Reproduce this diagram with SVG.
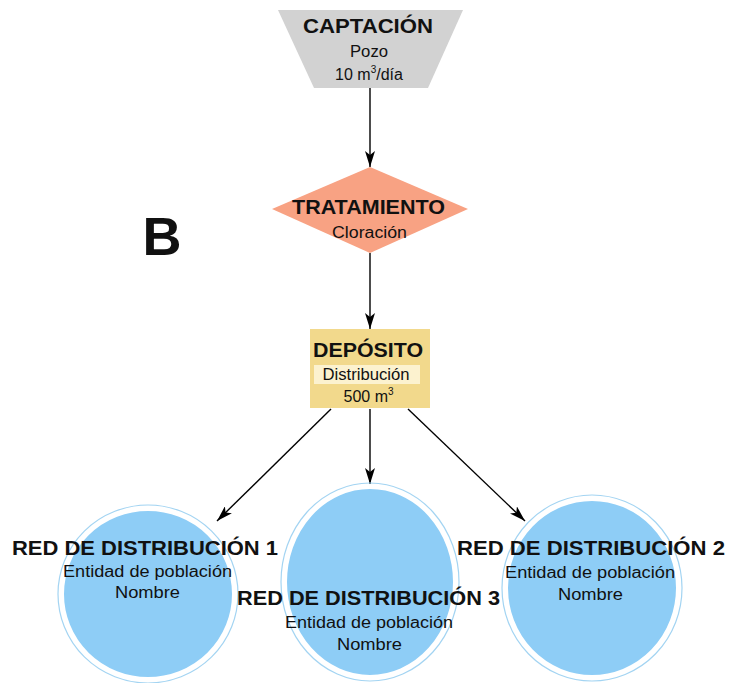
<svg xmlns="http://www.w3.org/2000/svg" width="746" height="683" viewBox="0 0 746 683">
<defs>
<marker id="ah" viewBox="0 0 16 10" refX="16" refY="5" markerWidth="16" markerHeight="10" markerUnits="userSpaceOnUse" orient="auto">
<path d="M0,0 L16,5 L0,10 L4,5 Z" fill="#000"/>
</marker>
</defs>
<style>
text{font-family:"Liberation Sans",Arial,sans-serif;text-anchor:middle;fill:#111}
.h{font-weight:bold;font-size:21px}
.s{font-size:16px}
.c{font-size:16px}
.conn line{stroke:#000;stroke-width:1.4;marker-end:url(#ah)}
.circ{fill:#8ecdf6;stroke:#fff;stroke-width:4}
.ring{fill:none;stroke:#a3d4f2;stroke-width:1.2}
</style>
<rect width="746" height="683" fill="#fff"/>
<g class="conn">
<line x1="370" y1="88" x2="370" y2="167"/>
<line x1="370" y1="253" x2="370" y2="329"/>
<line x1="331" y1="409" x2="217" y2="521"/>
<line x1="370" y1="409" x2="370" y2="484"/>
<line x1="408" y1="409" x2="525" y2="521"/>
</g>
<g id="captacion">
<polygon points="278,10 463,10 428,88 314,88" fill="#d2d2d2"/>
<text class="h" x="368" y="33" textLength="130" lengthAdjust="spacingAndGlyphs">CAPTACIÓN</text>
<text class="s" x="369" y="57" textLength="38" lengthAdjust="spacingAndGlyphs">Pozo</text>
<text class="s" x="369" y="80">10 m<tspan font-size="10" dy="-7">3</tspan><tspan dy="7">/día</tspan></text>
</g>
<g id="tratamiento">
<polygon points="370,167 468,209 370,253 272,209" fill="#f8a283"/>
<text class="h" x="368.5" y="214" textLength="153" lengthAdjust="spacingAndGlyphs">TRATAMIENTO</text>
<text class="s" x="369.5" y="238" textLength="75" lengthAdjust="spacingAndGlyphs">Cloración</text>
</g>
<g id="deposito">
<rect x="310" y="329" width="120" height="79" fill="#f2d98c"/>
<rect x="314" y="365" width="106" height="19" fill="#fcf2cf"/>
<text class="h" x="368" y="357" textLength="110" lengthAdjust="spacingAndGlyphs">DEPÓSITO</text>
<text class="s" x="366" y="380" textLength="87" lengthAdjust="spacingAndGlyphs">Distribución</text>
<text class="s" x="368.5" y="402">500 m<tspan font-size="10" dy="-7">3</tspan></text>
</g>
<g id="label-b">
<text x="162" y="255" font-weight="bold" font-size="54">B</text>
</g>
<g id="red1">
<ellipse class="ring" cx="148" cy="594" rx="90" ry="89"/>
<ellipse class="circ" cx="148" cy="594" rx="86" ry="85"/>
<text class="h" x="145" y="555" textLength="266" lengthAdjust="spacingAndGlyphs">RED DE DISTRIBUCIÓN 1</text>
<text class="c" x="147.5" y="577" textLength="169" lengthAdjust="spacingAndGlyphs">Entidad de población</text>
<text class="c" x="147.5" y="598" textLength="65" lengthAdjust="spacingAndGlyphs">Nombre</text>
</g>
<g id="red3">
<ellipse class="ring" cx="370" cy="582" rx="89" ry="99"/>
<ellipse class="circ" cx="370" cy="582" rx="85" ry="95"/>
<text class="h" x="368.5" y="605" textLength="263" lengthAdjust="spacingAndGlyphs">RED DE DISTRIBUCIÓN 3</text>
<text class="c" x="369" y="628" textLength="168" lengthAdjust="spacingAndGlyphs">Entidad de población</text>
<text class="c" x="369.5" y="650" textLength="65" lengthAdjust="spacingAndGlyphs">Nombre</text>
</g>
<g id="red2">
<ellipse class="ring" cx="592" cy="588" rx="90" ry="93"/>
<ellipse class="circ" cx="592" cy="588" rx="86" ry="89"/>
<text class="h" x="591" y="555" textLength="268" lengthAdjust="spacingAndGlyphs">RED DE DISTRIBUCIÓN 2</text>
<text class="c" x="590" y="578" textLength="170" lengthAdjust="spacingAndGlyphs">Entidad de población</text>
<text class="c" x="590.5" y="600" textLength="65" lengthAdjust="spacingAndGlyphs">Nombre</text>
</g>
</svg>
